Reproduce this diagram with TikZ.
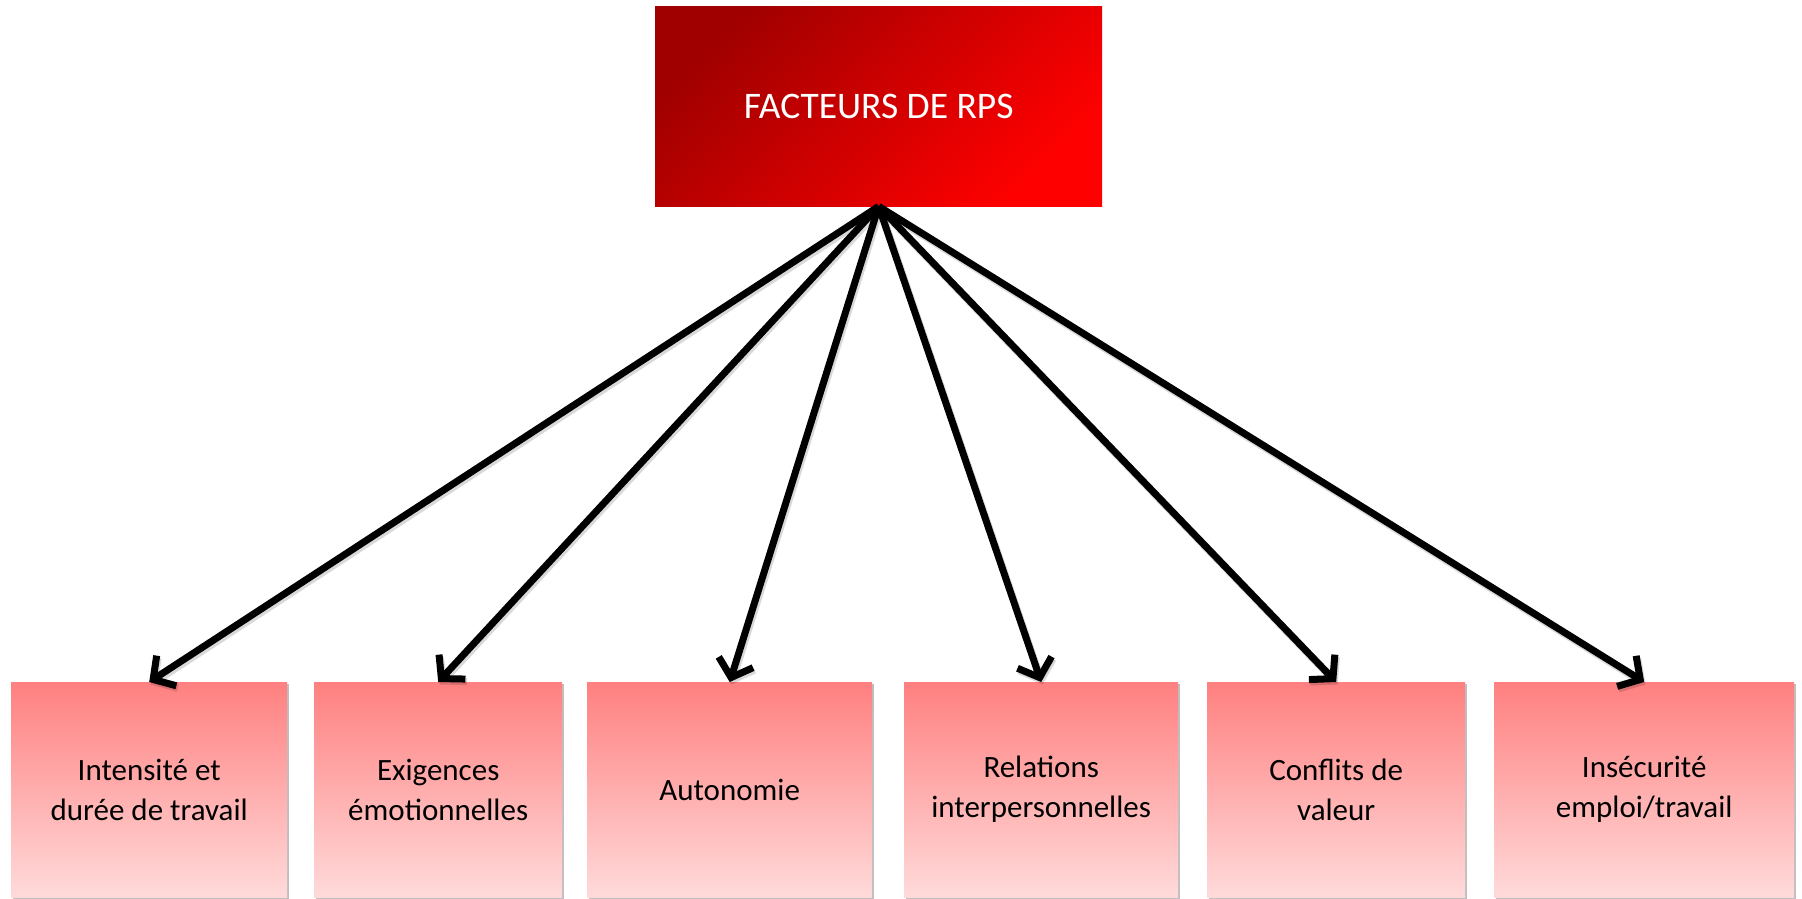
\documentclass[tikz,border=0pt]{standalone}
\usepackage{fontspec}
\setmainfont{Carlito}
\usetikzlibrary{arrows.meta,shadows,positioning}

\definecolor{rpsdark}{RGB}{160,0,0}
\definecolor{rpsmid}{RGB}{214,0,0}
\definecolor{rpsbright}{RGB}{255,0,0}
\definecolor{facttop}{RGB}{255,128,128}
\definecolor{factbot}{RGB}{255,218,218}

\tikzset{
  headbox/.style={draw=none, rectangle, inner sep=0pt, anchor=north west,
    shading=axis, top color=rpsdark, middle color=rpsmid, bottom color=rpsbright,
    shading angle=45},
  factorbox/.style={draw=none, rectangle, inner sep=0pt, anchor=north west,
    top color=facttop, bottom color=factbot,
    drop shadow={shadow xshift=2pt, shadow yshift=-2pt, opacity=0.25, fill=black}},
  link/.style={draw=black, line width=7pt,
    -{Straight Barb[length=16pt,width=36pt,line width=7pt]},
    preaction={draw=black, opacity=0.15, line width=7.5pt,
      transform canvas={xshift=1.5pt,yshift=-2.5pt}}},
  lbl/.style={align=center, text=black, font=\fontsize{31}{40}\selectfont},
}

\begin{document}
\begin{tikzpicture}[x=1pt,y=-1pt]
  \useasboundingbox (0,0) rectangle (1802,899);

  % head box
  \node[headbox, minimum width=447pt, minimum height=200pt] (rps) at (655,6) {};
  \node[text=white, font=\fontsize{37.5}{44}\selectfont] (rpst) at (rps.center) {FACTEURS DE RPS};

  % factor boxes
  \node[factorbox, minimum width=276pt, minimum height=215pt] (f1) at (11,682) {};
  \node[factorbox, minimum width=248pt, minimum height=215pt] (f2) at (314,682) {};
  \node[factorbox, minimum width=285pt, minimum height=215pt] (f3) at (587,682) {};
  \node[factorbox, minimum width=274pt, minimum height=215pt] (f4) at (904,682) {};
  \node[factorbox, minimum width=258pt, minimum height=215pt] (f5) at (1207,682) {};
  \node[factorbox, minimum width=300pt, minimum height=215pt] (f6) at (1494,682) {};

  \node[lbl] (t1) at (f1.center) {Intensité et\\durée de travail};
  \node[lbl] (t2) at (f2.center) {Exigences\\émotionnelles};
  \node[lbl] (t3) at (f3.center) {Autonomie};
  \node[lbl] (t4) at (f4.center) {Relations\\interpersonnelles};
  \node[lbl] (t5) at (f5.center) {Conflits de\\valeur};
  \node[lbl] (t6) at (f6.center) {Insécurité\\emploi/travail};

  % connectors
  \foreach \k in {1,...,6}{
    \draw[link] (rps.south) -- (f\k.north);
  }
\end{tikzpicture}
\end{document}
